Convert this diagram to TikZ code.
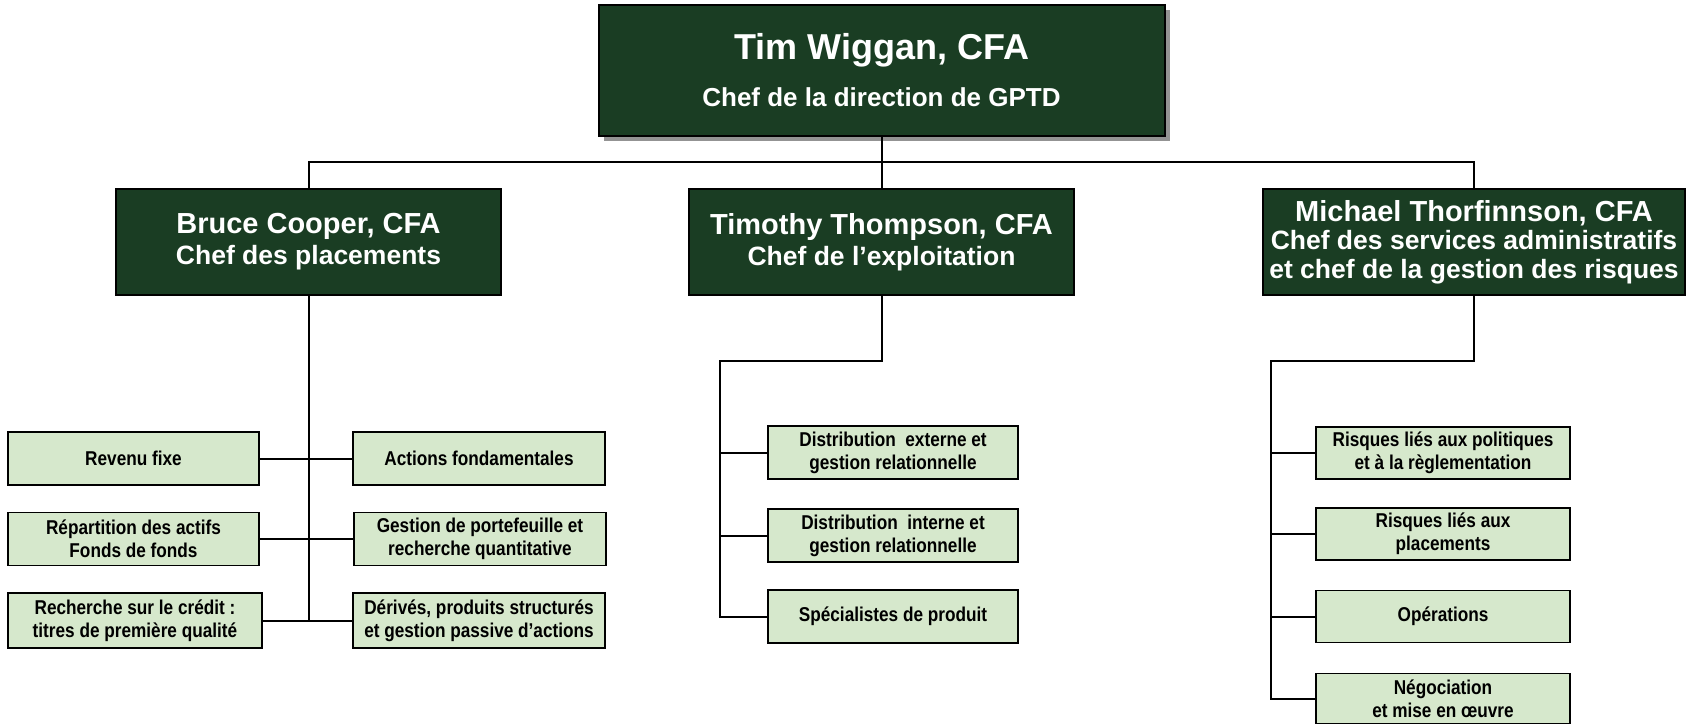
\documentclass[tikz,border=0pt]{standalone}
\usepackage{fontspec}
\setmainfont{Liberation Sans}
\newfontfamily\narrowfont[FakeStretch=0.86]{Liberation Sans}
\usetikzlibrary{calc,positioning,shadows}
\definecolor{darkgreen}{RGB}{26,61,35}
\definecolor{palegreen}{RGB}{214,232,204}

\begin{document}
\begin{tikzpicture}[x=1pt,y=-1pt,
  every text node part/.style={align=center},
  chief/.style={draw=black,line width=2pt,fill=darkgreen,text=white,inner sep=0pt,
    font=\bfseries\fontsize{26.5}{31}\selectfont},
  unit/.style={draw=black,line width=1.8pt,fill=palegreen,inner sep=0pt,minimum height=53pt,
    font=\narrowfont\bfseries\fontsize{20}{23}\selectfont},
  link/.style={line width=2pt}]
\useasboundingbox (0,0) rectangle (1688,725);
\node[chief,minimum width=566pt,minimum height=131pt,font=\bfseries\fontsize{26}{47}\selectfont,
  drop shadow={shadow xshift=5pt,shadow yshift=-5pt,fill=gray!85,opacity=1}] (ceo) at (881.5,70.5)
  {{\fontsize{36}{40}\selectfont Tim Wiggan, CFA}\\Chef de la direction de GPTD};
\node[chief,minimum width=385pt,minimum height=106pt] (cio) at (308.5,242)
  {{\fontsize{29}{31}\selectfont Bruce Cooper, CFA}\\Chef des placements};
\node[chief,minimum width=385pt,minimum height=106pt] (coo) at (881.5,242)
  {{\fontsize{29}{31}\selectfont Timothy Thompson, CFA}\\Chef de l’exploitation};
\node[chief,minimum width=422pt,minimum height=106pt,font=\bfseries\fontsize{26.5}{28.5}\selectfont] (cro) at (1474,242)
  {{\fontsize{29}{29}\selectfont Michael Thorfinnson, CFA}\\Chef des services administratifs\\et chef de la gestion des risques};

\node[unit,minimum width=251pt] (fixed) at (133.5,458.5) {Revenu fixe};
\node[unit,minimum width=251pt] (alloc) at (133.5,539) {Répartition des actifs\\Fonds de fonds};
\node[unit,minimum width=254pt,minimum height=55pt] (credit) at (135,620.5) {Recherche sur le crédit :\\titres de première qualité};
\node[unit,minimum width=252pt] (equity) at (479,458.5) {Actions fondamentales};
\node[unit,minimum width=252pt] (quant) at (480,539) {Gestion de portefeuille et\\recherche quantitative};
\node[unit,minimum width=252pt,minimum height=55pt] (deriv) at (479,620.5) {Dérivés, produits structurés\\et gestion passive d’actions};

\node[unit,minimum width=250pt] (ext) at (893,452.5) {Distribution~~externe et\\gestion relationnelle};
\node[unit,minimum width=250pt] (int) at (893,535.5) {Distribution~~interne et\\gestion relationnelle};
\node[unit,minimum width=250pt] (spec) at (893,616.5) {Spécialistes de produit};

\node[unit,minimum width=254pt,minimum height=52pt] (pol) at (1443,453) {Risques liés aux politiques\\et à la règlementation};
\node[unit,minimum width=254pt,minimum height=52pt] (risk) at (1443,534) {Risques liés aux\\placements};
\node[unit,minimum width=254pt,minimum height=52pt] (ops) at (1443,616.5) {Opérations};
\node[unit,minimum width=254pt,minimum height=50pt] (trade) at (1443,698.5) {Négociation\\et mise en œuvre};

\coordinate (bar) at (881.5,162);
\draw[link] (ceo.south) -- (bar);
\draw[link] (cio.north) |- (bar) -| (cro.north);
\draw[link] (bar) -- (coo.north);

\draw[link] (cio.south) -- (cio.south |- credit.east);
\draw[link] (fixed.east) -- (equity.west);
\draw[link] (alloc.east) -- (quant.west);
\draw[link] (credit.east) -- (deriv.west);

\coordinate (cooturn) at (720,361);
\draw[link] (coo.south) |- (cooturn) -- (cooturn |- spec.west) -- (spec.west);
\draw[link] (cooturn |- ext.west) -- (ext.west);
\draw[link] (cooturn |- int.west) -- (int.west);

\coordinate (croturn) at (1271,361);
\draw[link] (cro.south) |- (croturn) -- (croturn |- trade.west) -- (trade.west);
\draw[link] (croturn |- pol.west) -- (pol.west);
\draw[link] (croturn |- risk.west) -- (risk.west);
\draw[link] (croturn |- ops.west) -- (ops.west);
\end{tikzpicture}
\end{document}
